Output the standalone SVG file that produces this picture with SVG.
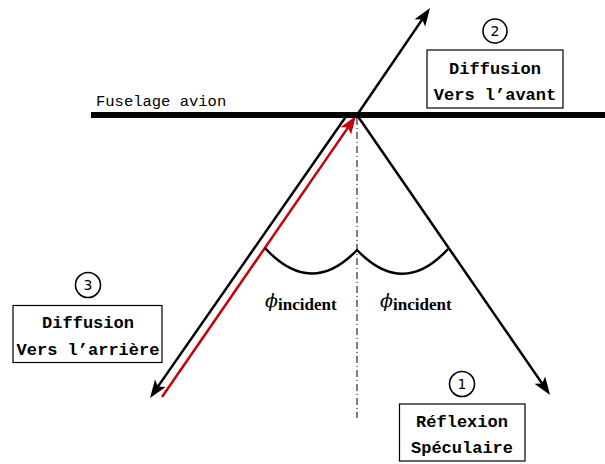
<svg xmlns="http://www.w3.org/2000/svg" width="605" height="464" viewBox="0 0 605 464">
<style>
.ray{stroke:#000;stroke-width:2.5;fill:none}
.red{stroke:#c8000a;stroke-width:2.5;fill:none}
.box{fill:#fff;stroke:#000;stroke-width:1.2}
.circ{fill:#fff;stroke:#000;stroke-width:1.6}
.bt{font-family:"Liberation Mono",monospace;font-weight:bold;font-size:17px;text-anchor:middle;fill:#000}
.num{font-family:"DejaVu Sans","Liberation Sans",sans-serif;font-size:14px;text-anchor:middle;fill:#000}
.phi{font-family:"DejaVu Serif",serif;font-style:italic;font-size:19px;fill:#000}
.sub{font-family:"Liberation Serif",serif;font-weight:bold;font-size:17px;fill:#000}
</style>
<defs>
<marker id="ah" markerUnits="userSpaceOnUse" viewBox="-12 -8 22 16" refX="0" refY="0" markerWidth="22" markerHeight="16" orient="auto">
<path d="M8,0 L-10,-6.5 L-6,0 L-10,6.5 Z" fill="#000"/>
</marker>
<marker id="ahr" markerUnits="userSpaceOnUse" viewBox="-12 -8 22 16" refX="0" refY="0" markerWidth="22" markerHeight="16" orient="auto">
<path d="M8,0 L-10,-6.5 L-6,0 L-10,6.5 Z" fill="#c8000a"/>
</marker>
</defs>
<g id="connectors">
<line class="ray" x1="357" y1="115" x2="425.5" y2="14.6" marker-end="url(#ah)"/>
<line class="ray" x1="357" y1="115" x2="545.5" y2="388.4" marker-end="url(#ah)"/>
<line class="ray" x1="347" y1="115" x2="154.6" y2="391.4" marker-end="url(#ah)"/>
<line class="red" x1="162" y1="397" x2="351.4" y2="122.6" marker-end="url(#ahr)"/>
<line x1="357" y1="118" x2="357" y2="418" stroke="#000" stroke-width="1" stroke-dasharray="7 3 1 3"/>
<path class="ray" d="M265,248 Q311,298 357,250 Q403,298 448,249"/>
</g>
<g id="fuselage">
<line x1="91" y1="115" x2="605" y2="115" stroke="#000" stroke-width="6"/>
<text x="96" y="106" font-family="Liberation Mono,monospace" font-size="15.5px">Fuselage avion</text>
</g>
<g id="phi-left">
<text x="265" y="307" class="phi">ϕ</text>
<text x="278" y="310" class="sub">incident</text>
</g>
<g id="phi-right">
<text x="380" y="307" class="phi">ϕ</text>
<text x="393" y="310" class="sub">incident</text>
</g>
<g id="node-2">
<circle class="circ" cx="495" cy="31" r="12"/>
<text class="num" x="495" y="36">2</text>
<rect class="box" x="427" y="50" width="136" height="58"/>
<text class="bt" x="495" y="74">Diffusion</text>
<text class="bt" x="495" y="100">Vers l’avant</text>
</g>
<g id="node-3">
<circle class="circ" cx="88" cy="285" r="12.5"/>
<text class="num" x="88" y="290">3</text>
<rect class="box" x="13" y="305.5" width="149" height="57"/>
<text class="bt" x="88" y="328">Diffusion</text>
<text class="bt" x="88" y="355">Vers l’arrière</text>
</g>
<g id="node-1">
<circle class="circ" cx="462" cy="384" r="12.5"/>
<text class="num" x="462" y="389">1</text>
<rect class="box" x="399.5" y="404" width="125.5" height="57"/>
<text class="bt" x="462" y="427">Réflexion</text>
<text class="bt" x="462" y="453">Spéculaire</text>
</g>
</svg>
